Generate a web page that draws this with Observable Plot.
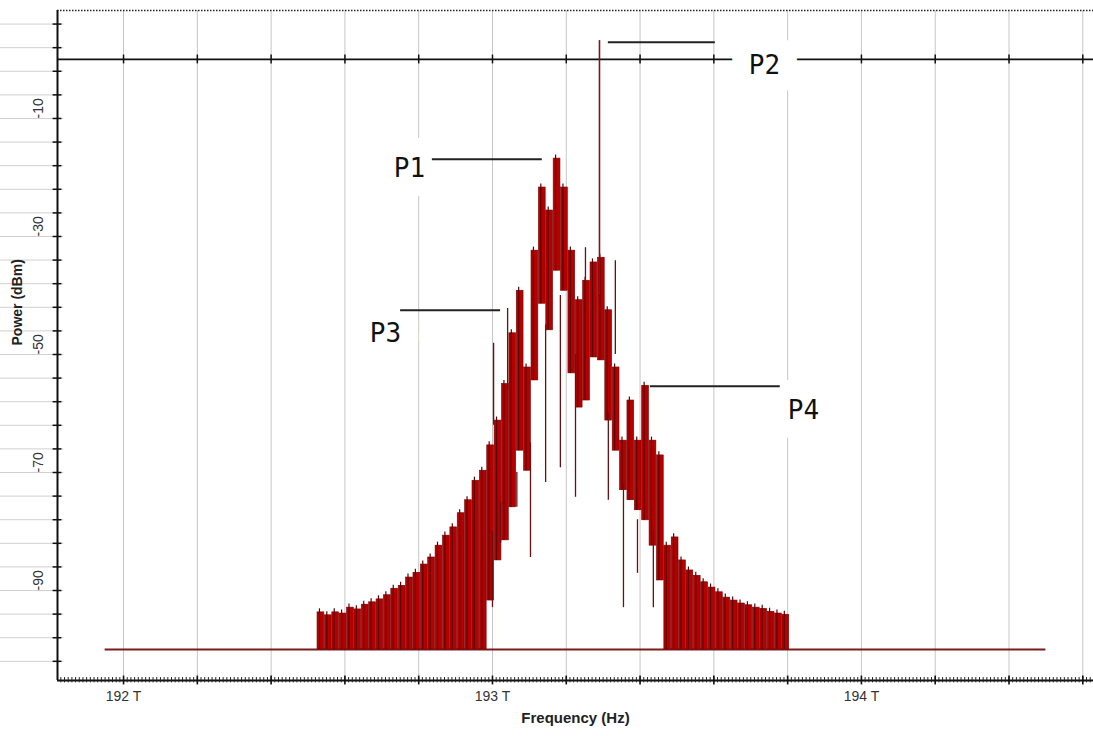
<!DOCTYPE html>
<html><head><meta charset="utf-8">
<script src="https://cdn.jsdelivr.net/npm/d3@7"></script>
<script src="https://cdn.jsdelivr.net/npm/@observablehq/plot@0.6"></script>
<style>body{margin:0;background:#fff;} svg{display:block;}</style>
</head><body><div id="chart"></div>
<script>
// ---- axis / tick data ----
const xDomain = [191.821, 194.629];      // THz
const yDomain = [-105.25, 8.3];          // dBm
const xTickValues = [192, 193, 194];
const xTickLabels = ["192 T", "193 T", "194 T"];
const yTickValues = [-10, -30, -50, -70, -90];
const yTickLabels = ["-10", "-30", "-50", "-70", "-90"];
const gridX = [192, 192.2, 192.4, 192.6, 192.8, 193, 193.2, 193.4, 193.6, 193.8, 194, 194.2, 194.4, 194.6];
const gridY = [-102, -98, -94, -90, -86, -82, -78, -74, -70, -66, -62, -58, -54, -50, -46, -42, -38, -34, -30, -26, -22, -18, -14, -10, -6, -2, 2, 6];

// ---- spectrum data ----
const floorStart = 191.95, floorEnd = 194.5, floorLevel = -100;
const refLevel = 0; // 0 dBm reference line

// comb teeth: centre frequency (THz), peak power and base power (dBm)
const toothFreq = [192.535, 192.555, 192.575, 192.595, 192.615, 192.635, 192.655, 192.675, 192.695, 192.715,
  192.735, 192.755, 192.775, 192.795, 192.815, 192.835, 192.855, 192.875, 192.895, 192.915,
  192.935, 192.955, 192.975, 192.995, 193.015, 193.035, 193.055, 193.075, 193.095, 193.115,
  193.135, 193.155, 193.175, 193.195, 193.215, 193.235, 193.255, 193.275, 193.295, 193.315,
  193.335, 193.355, 193.375, 193.395, 193.415, 193.435, 193.455, 193.475, 193.495, 193.515,
  193.535, 193.555, 193.575, 193.595, 193.615, 193.635, 193.655, 193.675, 193.695, 193.715,
  193.735, 193.755, 193.775, 193.795];
const toothPeak = [-93.7, -94.2, -93.7, -93.9, -92.9, -93.2, -92.4, -92.0, -91.5, -90.8,
  -89.7, -89.2, -87.8, -87.0, -85.6, -84.4, -82.4, -80.7, -79.3, -76.9,
  -74.7, -71.4, -69.7, -65.4, -61.2, -55.0, -46.4, -39.2, -52.2, -32.4,
  -21.7, -25.6, -16.8, -21.7, -32.4, -40.8, -37.5, -34.4, -33.6, -42.5,
  -52.2, -64.6, -57.8, -64.6, -55.3, -64.6, -67.1, -82.4, -81.0, -84.9,
  -86.6, -87.5, -88.6, -89.5, -90.3, -91.2, -91.7, -92.2, -92.5, -92.9,
  -93.1, -93.6, -93.9, -94.1];
const toothBase = [-100, -100, -100, -100, -100, -100, -100, -100, -100, -100,
  -100, -100, -100, -100, -100, -100, -100, -100, -100, -100,
  -100, -100, -100, -91.7, -84.9, -81.5, -75.9, -66.3, -69.7, -54.4,
  -41.4, -45.9, -35.8, -39.2, -53.2, -59.0, -57.8, -50.5, -51.0, -61.2,
  -66.3, -73.0, -74.7, -76.4, -78.1, -82.4, -88.3, -100, -100, -100,
  -100, -100, -100, -100, -100, -100, -100, -100, -100, -100,
  -100, -100, -100, -100];

// thin spikes / dips: frequency, start and end power
const spikeFreq = [193.003, 193.041, 193.252, 193.333, 193.000, 193.022, 193.066, 193.103, 193.144, 193.184, 193.225, 193.314, 193.355, 193.393, 193.436];
const spikeFrom = [-62, -56, -42, -50, -80, -75, -70, -65, -45, -40, -50, -60, -72, -78, -80];
const spikeTo   = [-48.1, -42.2, -31.9, -34.1, -92.9, -82.0, -75.9, -84.4, -71.7, -69.2, -74.2, -74.7, -92.9, -87.1, -92.9];

// pump line P2
const pumpFreq = 193.290, pumpTop = 3.2, pumpBase = -40;

// annotations
const annLabel = ["P1", "P2", "P3", "P4"];
const annTextF = [192.775, 193.737, 192.710, 193.843];
const annTextP = [-18.5, -1.0, -46.4, -59.5];
const annLineF1 = [192.837, 193.314, 192.751, 193.428];
const annLineF2 = [193.135, 193.604, 193.022, 193.780];
const annLineP = [-16.9, 2.9, -42.5, -55.4];

// ---- build tables ----
const teeth = toothFreq.map((f, i) => ({f, peak: toothPeak[i], base: toothBase[i]}));
const spikes = spikeFreq.map((f, i) => ({f, a: spikeFrom[i], b: spikeTo[i]}));
const ann = annLabel.map((t, i) => ({t, tf: annTextF[i], tp: annTextP[i], f1: annLineF1[i], f2: annLineF2[i], lp: annLineP[i]}));
const halfW = 0.0092;
const minorTicks = d3.range(191.83, 194.63, 0.01);
const font = "Liberation Sans, Arial, sans-serif";

const chart = Plot.plot({
  width: 1093, height: 736,
  marginTop: 10, marginRight: 0, marginBottom: 56, marginLeft: 57,
  x: {domain: xDomain, axis: null},
  y: {domain: yDomain, axis: null},
  style: {background: "#fff", fontFamily: font},
  marks: [
    Plot.ruleY(gridY, {stroke: "#d0d0d0", strokeWidth: 1, x1: 191.838}),
    Plot.ruleX(gridX, {stroke: "#c6c6c6", strokeWidth: 1}),
    Plot.ruleY([refLevel], {stroke: "#111", strokeWidth: 1.8}),
    Plot.ruleX(gridX, {y1: -0.75, y2: 0.75, stroke: "#111", strokeWidth: 1.5}),
    Plot.ruleY([floorLevel], {x1: floorStart, x2: floorEnd, stroke: "#7a1c1c", strokeWidth: 2}),
    Plot.rect(teeth, {x1: d => d.f - halfW, x2: d => d.f + halfW, y1: "base", y2: "peak",
      fill: "#b30000", stroke: "#7a0303", strokeWidth: 0.6}),
    Plot.ruleX(teeth, {x: d => d.f - 0.004, y1: "base", y2: d => d.peak + 0.6, stroke: "#5c0000", strokeWidth: 1.2}),
    Plot.ruleX(spikes, {x: "f", y1: "a", y2: "b", stroke: "#6a1010", strokeWidth: 1.3}),
    Plot.ruleX([pumpFreq], {y1: pumpBase, y2: pumpTop, stroke: "#7a1818", strokeWidth: 1.6}),
    Plot.text(ann, {x: "tf", y: "tp", text: "t", fontFamily: "DejaVu Sans Mono, monospace",
      fontSize: 26, fill: "#111", stroke: "white", strokeWidth: 38, strokeLinejoin: "round",
      paintOrder: "stroke", letterSpacing: 3}),
    Plot.ruleY(ann, {y: "lp", x1: "f1", x2: "f2", stroke: "#222", strokeWidth: 2}),
    // axes
    Plot.ruleY([yDomain[1]], {stroke: "#222", strokeWidth: 1.5, strokeDasharray: "1.5,1.5"}),
    Plot.ruleX([xDomain[0]], {stroke: "#111", strokeWidth: 2}),
    Plot.ruleY(gridY, {x1: 191.809, x2: 191.833, stroke: "#111", strokeWidth: 1.5}),
    Plot.ruleY([yDomain[0]], {stroke: "#111", strokeWidth: 2}),
    Plot.ruleX(minorTicks, {y1: -105.65, y2: -104.75, stroke: "#222", strokeWidth: 1}),
    Plot.ruleX(gridX, {y1: -106.0, y2: -104.5, stroke: "#111", strokeWidth: 1.6}),
    Plot.text(yTickValues, {y: d => d, text: (d, i) => yTickLabels[i], frameAnchor: "left", dx: -19,
      rotate: -90, fontSize: 14, fill: "#333"}),
    Plot.text(xTickValues, {x: d => d, text: (d, i) => xTickLabels[i], frameAnchor: "bottom", dy: 20,
      fontSize: 14, fill: "#333"}),
    Plot.text(["Power (dBm)"], {frameAnchor: "left", dx: -40, rotate: -90, fontSize: 14,
      fontWeight: "bold", fill: "#222"}),
    Plot.text(["Frequency (Hz)"], {frameAnchor: "bottom", dy: 42, fontSize: 15,
      fontWeight: "bold", fill: "#222"})
  ]
});
document.getElementById("chart").append(chart);
</script></body></html>
